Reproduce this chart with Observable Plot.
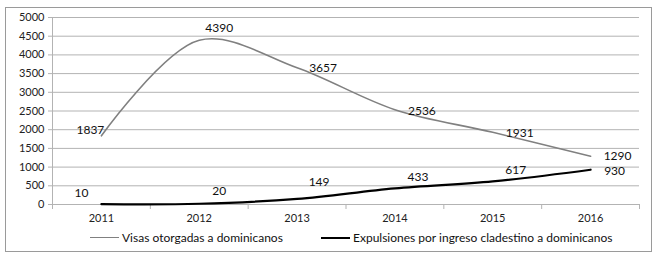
<!DOCTYPE html>
<html>
<head>
<meta charset="utf-8">
<script src="https://cdn.jsdelivr.net/npm/d3@7"></script>
<script src="https://cdn.jsdelivr.net/npm/@observablehq/plot@0.6"></script>
<style>
  html, body { margin: 0; padding: 0; background: #fff; }
  body { width: 665px; height: 258px; position: relative; overflow: hidden; font-family: Lato, "Open Sans", sans-serif; }
  #box { position: absolute; left: 5px; top: 7px; width: 645px; height: 243px; border: 1px solid #9a9a9a; background: #fff; }
  #chart { position: absolute; left: 0; top: 0; }
  .leg { position: absolute; top: 222px; font-size: 12px; color: #111; white-space: nowrap; display: flex; align-items: center; }
  .leg .sw { display: inline-block; width: 29px; margin-right: 3px; }
</style>
</head>
<body>
<div id="box">
  <div id="chart"></div>
  <div class="leg" id="leg1" style="left:84px"><span class="sw" style="border-top:1.5px solid #808080"></span><span>Visas otorgadas a dominicanos</span></div>
  <div class="leg" id="leg2" style="left:315px"><span class="sw" style="border-top:2px solid #000"></span><span>Expulsiones por ingreso cladestino a dominicanos</span></div>
</div>
<script>
const years = [2011, 2012, 2013, 2014, 2015, 2016];
const visas = [1837, 4390, 3657, 2536, 1931, 1290];
const expulsiones = [10, 20, 149, 433, 617, 930];
const yTicks = [0, 500, 1000, 1500, 2000, 2500, 3000, 3500, 4000, 4500, 5000];

// label placement offsets (pixels), separate from data
const visasDx = [-11, 20, 26, 27, 27, 27];
const visasDy = [-6, -12, 0, 2, 1, 0];
const expDx = [-20, 20, 22, 23, 23, 24];
const expDy = [-11, -13, -17, -11, -11, 1];

const boundaries = years.map(y => y - 0.5).concat([years[years.length - 1] + 0.5]);
const visasData = years.map((y, i) => ({year: y, value: visas[i]}));
const expData = years.map((y, i) => ({year: y, value: expulsiones[i]}));

const gridColor = "#b3b3b3";
const labelMarks = [];
visasData.forEach((d, i) => {
  labelMarks.push(Plot.text([d], {x: "year", y: "value", text: d => String(d.value), dx: visasDx[i], dy: visasDy[i], fontSize: 12, fill: "#111"}));
});
expData.forEach((d, i) => {
  labelMarks.push(Plot.text([d], {x: "year", y: "value", text: d => String(d.value), dx: expDx[i], dy: expDy[i], fontSize: 12, fill: "#111"}));
});

const plot = Plot.plot({
  width: 645,
  height: 222,
  marginLeft: 46,
  marginRight: 12,
  marginTop: 9,
  marginBottom: 26,
  style: {fontFamily: "Lato, 'Open Sans', sans-serif", background: "transparent"},
  x: {domain: [boundaries[0], boundaries[boundaries.length - 1]]},
  y: {domain: [0, 5000]},
  marks: [
    Plot.gridY(yTicks, {stroke: gridColor, strokeOpacity: 1, strokeWidth: 1}),
    Plot.ruleX([boundaries[0]], {stroke: gridColor, strokeWidth: 1}),
    Plot.axisY(yTicks, {tickSize: 4, tickPadding: 4, stroke: gridColor, fontSize: 11, fill: "#222", label: null, tickFormat: d => String(d)}),
    Plot.axisX(boundaries, {tickSize: 5, stroke: gridColor, text: null, label: null}),
    Plot.axisX(years, {tickSize: 0, tickPadding: 10, fontSize: 11, fill: "#222", label: null, tickFormat: d => String(d)}),
    Plot.line(visasData, {x: "year", y: "value", stroke: "#808080", strokeWidth: 1.6, curve: "catmull-rom"}),
    Plot.line(expData, {x: "year", y: "value", stroke: "#000", strokeWidth: 2.2, curve: "catmull-rom"}),
    ...labelMarks
  ]
});
document.getElementById("chart").appendChild(plot);
</script>
</body>
</html>
